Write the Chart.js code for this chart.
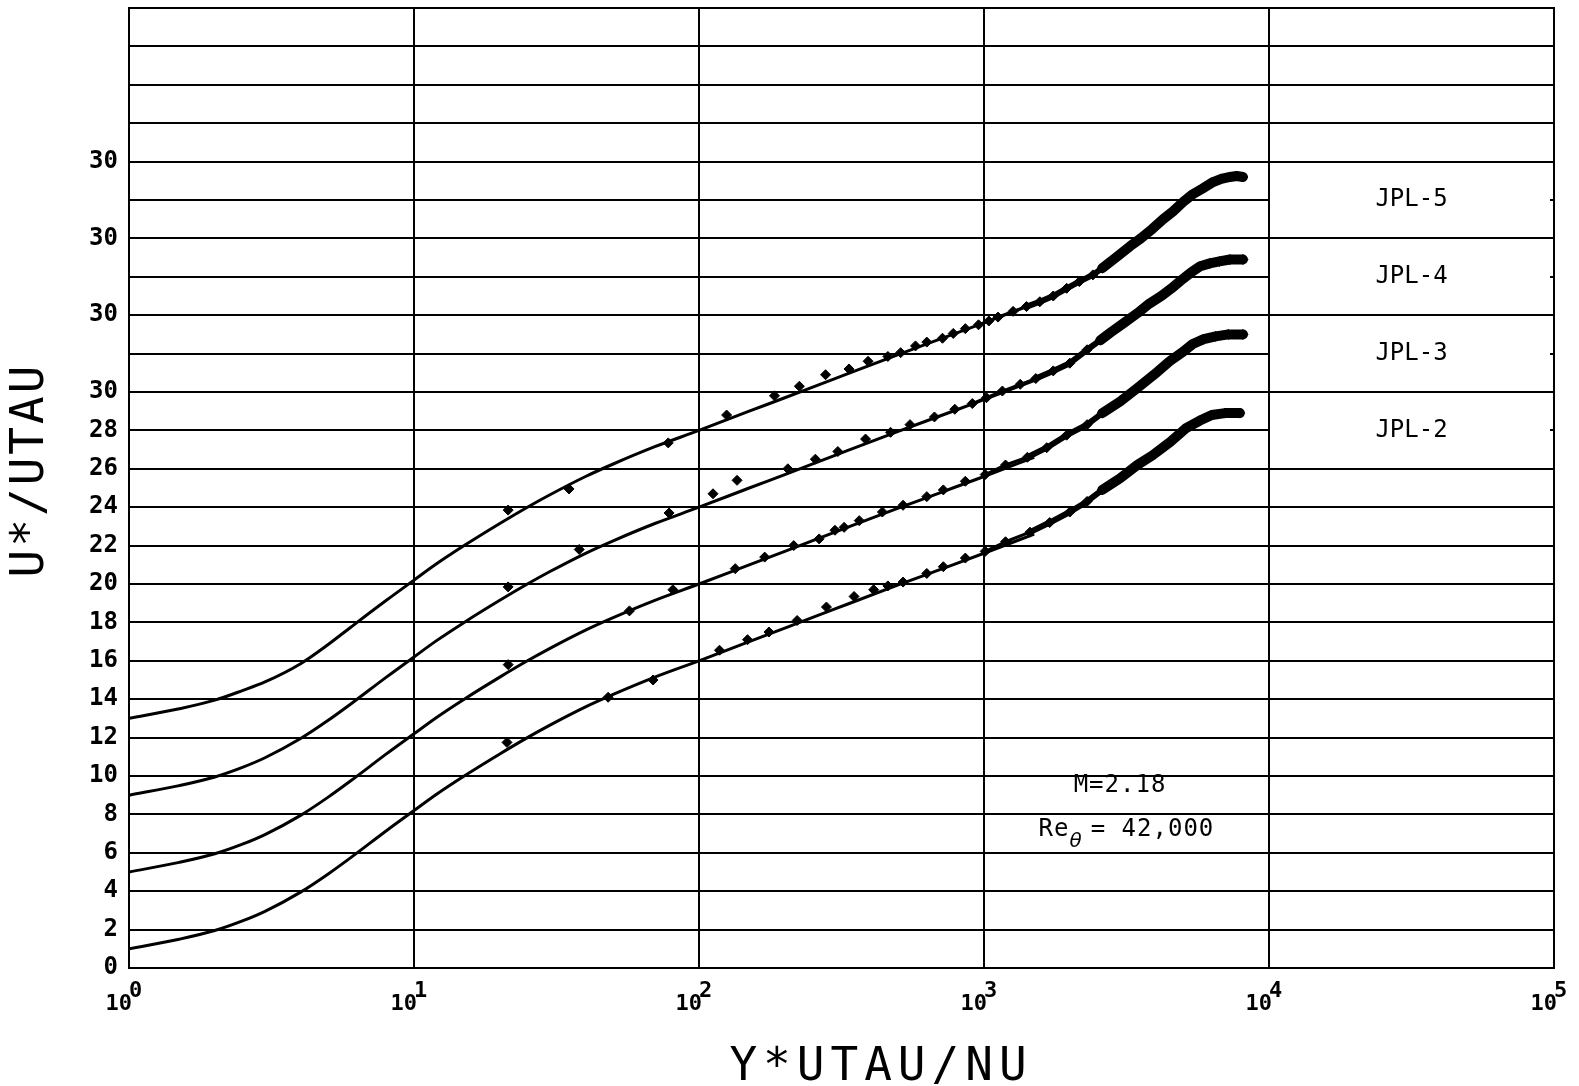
<!DOCTYPE html>
<html>
<head>
<meta charset="utf-8">
<title>U*/UTAU vs Y*UTAU/NU</title>
<script src="https://cdn.jsdelivr.net/npm/chart.js"></script>
<style>
  html, body { margin: 0; background: #fff; }
  #wrap { width: 1579px; height: 1086px; }
</style>
</head>
<body>
<div id="wrap"><canvas id="myChart"></canvas></div>
<script>
// law-of-the-wall curves, one per profile (offset by 4 each)
var lawX = [1, 1.5, 2, 2.5, 3, 4, 5, 6, 8, 10, 12, 15, 20, 25, 30, 40, 50, 70, 100, 150, 200, 300, 500, 700, 1000, 1500];
var law2 = [1.0, 1.5, 1.95, 2.45, 2.95, 3.95, 4.9, 5.75, 7.15, 8.2, 9.05, 10.0, 11.15, 12.0, 12.65, 13.6, 14.25, 15.15, 16.0, 17.0, 17.7, 18.7, 19.95, 20.75, 21.6, 22.6];
var law3 = [5.0, 5.5, 5.95, 6.45, 6.95, 7.95, 8.9, 9.75, 11.15, 12.2, 13.05, 14.0, 15.15, 16.0, 16.65, 17.6, 18.25, 19.15, 20.0, 21.0, 21.7, 22.7, 23.95, 24.75, 25.6, 26.6];
var law4 = [9.0, 9.5, 9.95, 10.45, 10.95, 11.95, 12.9, 13.75, 15.15, 16.2, 17.05, 18.0, 19.15, 20.0, 20.65, 21.6, 22.25, 23.15, 24.0, 25.0, 25.7, 26.7, 27.95, 28.75, 29.6, 30.6];
var law5 = [13.0, 13.5, 13.95, 14.45, 14.9, 15.85, 16.85, 17.75, 19.15, 20.2, 21.05, 22.0, 23.15, 24.0, 24.65, 25.6, 26.25, 27.15, 28.0, 29.0, 29.7, 30.7, 31.95, 32.75, 33.6, 34.6];

// measured profiles
var jpl2X = [21.2, 48, 69, 118, 148, 176, 221, 280, 350, 410, 460, 520, 630, 720, 860, 1010, 1190, 1450, 1700, 2000, 2300, 2600, 3000, 3450, 3900, 4500, 5100, 5700, 6300, 7000, 7900];
var jpl2U = [11.75, 14.1, 15.0, 16.55, 17.1, 17.5, 18.1, 18.8, 19.35, 19.7, 19.9, 20.1, 20.55, 20.9, 21.35, 21.7, 22.2, 22.7, 23.2, 23.75, 24.3, 24.9, 25.5, 26.2, 26.7, 27.4, 28.1, 28.5, 28.8, 28.9, 28.9];

var jpl3X = [21.4, 57, 81, 134, 170, 215, 264, 300, 323, 365, 440, 520, 630, 720, 860, 1010, 1190, 1420, 1660, 1950, 2300, 2600, 3000, 3450, 3950, 4480, 5000, 5400, 5900, 6500, 7200, 8100];
var jpl3U = [15.8, 18.6, 19.7, 20.8, 21.4, 22.0, 22.35, 22.8, 22.95, 23.3, 23.75, 24.1, 24.55, 24.9, 25.35, 25.7, 26.2, 26.6, 27.1, 27.75, 28.3, 28.9, 29.5, 30.2, 30.9, 31.6, 32.1, 32.5, 32.75, 32.9, 33.0, 33.0];

var jpl4X = [21.4, 38, 78.5, 112, 136, 205, 256, 307, 384, 470, 550, 670, 790, 910, 1020, 1160, 1340, 1520, 1750, 2000, 2300, 2560, 2780, 3100, 3450, 3800, 4190, 4550, 4900, 5300, 5740, 6200, 6700, 7300, 8100];
var jpl4U = [19.85, 21.8, 23.7, 24.7, 25.4, 26.0, 26.5, 26.9, 27.55, 27.9, 28.3, 28.7, 29.1, 29.4, 29.7, 30.05, 30.4, 30.7, 31.1, 31.5, 32.2, 32.7, 33.1, 33.6, 34.1, 34.6, 35.0, 35.4, 35.8, 36.2, 36.55, 36.7, 36.8, 36.9, 36.9];

var jpl5X = [21.4, 35, 78, 125, 184, 225, 278, 336, 392, 460, 510, 575, 630, 715, 780, 860, 957, 1040, 1120, 1265, 1410, 1570, 1750, 1950, 2160, 2410, 2600, 2900, 3260, 3550, 3900, 4250, 4600, 5000, 5400, 5850, 6300, 6800, 7300, 7700, 8100];
var jpl5U = [23.85, 24.95, 27.35, 28.8, 29.8, 30.3, 30.9, 31.2, 31.6, 31.85, 32.05, 32.4, 32.6, 32.8, 33.05, 33.3, 33.5, 33.7, 33.9, 34.2, 34.45, 34.7, 35.0, 35.4, 35.75, 36.1, 36.45, 37.0, 37.6, 38.0, 38.5, 39.0, 39.4, 39.9, 40.3, 40.6, 40.9, 41.1, 41.2, 41.25, 41.2];

var seriesNames = ['JPL-5', 'JPL-4', 'JPL-3', 'JPL-2'];
var labelRows = [40, 36, 32, 28];       // rows the names sit on (no grid line in the last column)
var offsetRows = [34, 38, 42];          // shifted origins, each labelled "30"
var decades = [1, 10, 100, 1000, 10000, 100000];

var INK = '#000';
var FONT = '"DejaVu Sans Mono", monospace';

function pairs(xs, ys) {
	return xs.map(function (x, i) { return { x: x, y: ys[i] }; });
}

function lawSet(ys) {
	return {
		data: pairs(lawX, ys),
		showLine: true,
		borderColor: INK,
		borderWidth: 3,
		pointRadius: 0,
		cubicInterpolationMode: 'monotone',
	};
}

function pointSet(xs, ys) {
	return {
		data: pairs(xs, ys),
		showLine: true,
		borderColor: INK,
		borderWidth: 3,
		borderCapStyle: 'round',
		borderJoinStyle: 'round',
		pointStyle: 'rectRot',
		pointRadius: 5,
		pointBackgroundColor: INK,
		pointBorderColor: INK,
		pointBorderWidth: 1,
		// only the dense outer part is drawn as a heavy trace
		segment: {
			borderColor: function (c) { return c.p0.parsed.x >= 900 ? INK : 'rgba(0,0,0,0)'; },
			borderWidth: function (c) {
				var x = c.p0.parsed.x;
				return x >= 2500 ? 10 : (x >= 1400 ? 6 : 3);
			},
		},
	};
}

var plotter = {
	id: 'plotter',
	beforeDatasetsDraw: function (chart) {
		var ctx = chart.ctx, a = chart.chartArea;
		var xs = chart.scales.x, ys = chart.scales.y;
		var split = xs.getPixelForValue(10000);
		ctx.save();
		ctx.strokeStyle = INK;
		ctx.lineWidth = 2;
		ys.ticks.forEach(function (t) {
			var py = Math.round(ys.getPixelForValue(t.value));
			var isLabelRow = labelRows.indexOf(t.value) >= 0;
			ctx.beginPath();
			ctx.moveTo(a.left - 1, py);
			ctx.lineTo(isLabelRow ? split : a.right + 1, py);
			if (isLabelRow) {
				// small stub on the right frame
				ctx.moveTo(a.right - 4, py);
				ctx.lineTo(a.right, py);
			}
			ctx.stroke();
		});
		ctx.restore();
	},
	afterDraw: function (chart) {
		var ctx = chart.ctx, a = chart.chartArea;
		var xs = chart.scales.x, ys = chart.scales.y;
		ctx.save();
		ctx.fillStyle = INK;
		ctx.textBaseline = 'middle';

		// decade labels 10^n
		xs.ticks.forEach(function (t) {
			var gx = xs.getPixelForValue(t.value);
			var n = Math.round(Math.log10(t.value));
			ctx.font = 'bold 22px ' + FONT;
			ctx.textAlign = 'right';
			ctx.fillText('10', gx + 3, a.bottom + 36);
			ctx.textAlign = 'left';
			ctx.fillText(String(n), gx, a.bottom + 23);
		});

		// profile names in the last column
		ctx.font = '24px ' + FONT;
		ctx.textAlign = 'center';
		seriesNames.forEach(function (name, i) {
			ctx.fillText(name, xs.getPixelForValue(31623), ys.getPixelForValue(labelRows[i]));
		});

		// flow conditions
		ctx.font = '24px ' + FONT;
		ctx.letterSpacing = '1px';
		ctx.fillText('M=2.18', xs.getPixelForValue(3000), ys.getPixelForValue(9.5));
		var reY = ys.getPixelForValue(7.2);
		var w1 = ctx.measureText('Re').width;
		ctx.font = 'italic 20px "DejaVu Sans", sans-serif';
		var w2 = ctx.measureText('\u03b8').width;
		ctx.font = '24px ' + FONT;
		var w3 = ctx.measureText('= 42,000').width;
		var gap = 8;
		var x0 = xs.getPixelForValue(3160) - (w1 + w2 + gap + w3) / 2;
		ctx.textAlign = 'left';
		ctx.fillText('Re', x0, reY);
		ctx.fillText('= 42,000', x0 + w1 + w2 + gap, reY);
		ctx.font = 'italic 20px "DejaVu Sans", sans-serif';
		ctx.fillText('\u03b8', x0 + w1, reY + 12);

		// axis titles
		ctx.font = '46px ' + FONT;
		ctx.textAlign = 'center';
		ctx.letterSpacing = '6px';
		ctx.fillText('Y*UTAU/NU', 881, 1068);
		ctx.letterSpacing = '3px';
		ctx.translate(31, 472);
		ctx.rotate(-Math.PI / 2);
		ctx.fillText('U*/UTAU', 2, 0);
		ctx.restore();
	},
};

Chart.defaults.color = INK;
Chart.defaults.font.family = FONT;

new Chart('myChart', {
	type: 'scatter',
	data: {
		datasets: [
			lawSet(law2), lawSet(law3), lawSet(law4), lawSet(law5),
			pointSet(jpl2X, jpl2U), pointSet(jpl3X, jpl3U),
			pointSet(jpl4X, jpl4U), pointSet(jpl5X, jpl5U),
		],
	},
	options: {
		responsive: true,
		maintainAspectRatio: false,
		animation: false,
		layout: { padding: { top: 8, right: 25, left: 0, bottom: 0 } },
		plugins: {
			legend: { display: false },
			tooltip: { enabled: false },
		},
		scales: {
			x: {
				type: 'logarithmic',
				min: 1,
				max: 100000,
				afterBuildTicks: function (scale) {
					scale.ticks = decades.map(function (v) { return { value: v, major: true }; });
				},
				afterFit: function (scale) {
					scale.height = 118;
					scale.paddingLeft = 0;
					scale.paddingRight = 0;
				},
				ticks: { display: false },
				grid: { color: INK, lineWidth: 2, drawTicks: false },
				border: { display: false },
			},
			y: {
				min: 0,
				max: 50,
				afterFit: function (scale) {
					scale.width = 129;
					scale.paddingTop = 0;
					scale.paddingBottom = 0;
				},
				ticks: {
					stepSize: 2,
					autoSkip: false,
					padding: 11,
					font: { family: FONT, size: 24, weight: 'bold' },
					callback: function (v) {
						if (v <= 30) return String(v);
						if (offsetRows.indexOf(v) >= 0) return '30';
						return '';
					},
				},
				grid: { display: false, drawTicks: false },
				border: { display: false },
			},
		},
	},
	plugins: [plotter],
});
</script>
</body>
</html>
